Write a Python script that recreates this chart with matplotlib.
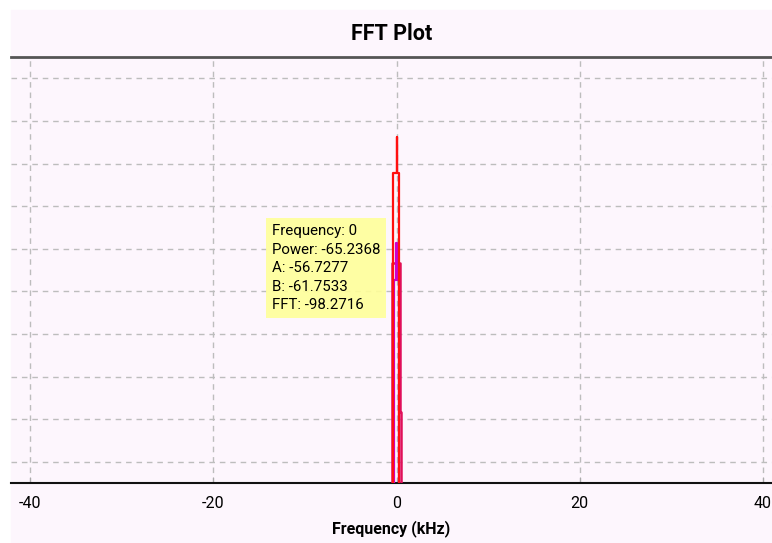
import matplotlib.pyplot as plt
from matplotlib.patches import Rectangle

# spectrum traces near DC (kHz, dB)
power_freq = [-0.38, -0.38, 0.0, 0.0, 0.0, 0.31, 0.31]
power_db = [-170, -82.2, -82.2, -73.8, -82.2, -82.2, -170]

a_freq = [-0.27, -0.27, -0.1, -0.1, 0.1, 0.1, 0.27, 0.27]
a_db = [-170, -107.3, -107.3, -98.7, -98.7, -107.3, -107.3, -170]

b_freq = [-0.52, -0.52, -0.45, -0.45, 0.42, 0.42, 0.49, 0.49]
b_db = [-170, -136.0, -136.0, -103.4, -103.4, -138.3, -138.3, -170]

xticks = [-40, -20, 0, 20, 40]
yticks = [-150, -140, -130, -120, -110, -100, -90, -80, -70, -60]

tooltip = ["Frequency: 0", "Power: -65.2368", "A: -56.7277",
           "B: -61.7533", "FFT: -98.2716"]

plt.rcParams['font.family'] = ['Roboto', 'DejaVu Sans']

bg = "#fdf6fd"
fig = plt.figure(figsize=(7.72, 5.43), dpi=100)
fig.patches.append(Rectangle((11 / 772, 0), 1, 1 - 10 / 543,
                             transform=fig.transFigure, color=bg, zorder=-10))

ax = fig.add_axes([11 / 772, 60 / 543, 761 / 772, 426 / 543])
ax.set_facecolor(bg)

ax.plot(b_freq, b_db, color="#e0105a", lw=1.8, zorder=3)
ax.plot(a_freq, a_db, color="#cc00cc", lw=1.6, zorder=4)
ax.plot(power_freq, power_db, color="#ff1010", lw=1.6, zorder=5)

ax.set_xlim(-42.1, 41.0)
ax.set_ylim(-155, -55)
ax.set_xticks(xticks)
ax.set_xticklabels([str(t) for t in xticks], fontsize=11.5)
ax.set_yticks(yticks)
ax.tick_params(axis="y", left=False, labelleft=False)
ax.tick_params(axis="x", length=4, color="#aaaaaa", direction="in", pad=9)
ax.grid(True, color="#bdbdbd", linestyle=(0, (4, 3.5)), lw=1)
ax.set_axisbelow(True)

for side in ["left", "right"]:
    ax.spines[side].set_visible(False)
ax.spines["top"].set_color("#555555")
ax.spines["top"].set_linewidth(2)
ax.spines["bottom"].set_color("#111111")
ax.spines["bottom"].set_linewidth(1.5)

ax.set_title("FFT Plot", fontsize=15.5, fontweight="bold", pad=12)
ax.set_xlabel("Frequency (kHz)", fontsize=11.5, fontweight="bold", labelpad=7)

ax.text(-13.6, -94.3, "\n".join(tooltip), fontsize=10.8, linespacing=1.4,
        va="top", ha="left", zorder=6,
        bbox=dict(boxstyle="square,pad=0.4", fc="#ffff99", ec="none", alpha=0.9))

fig.savefig("out.png", dpi=100)
